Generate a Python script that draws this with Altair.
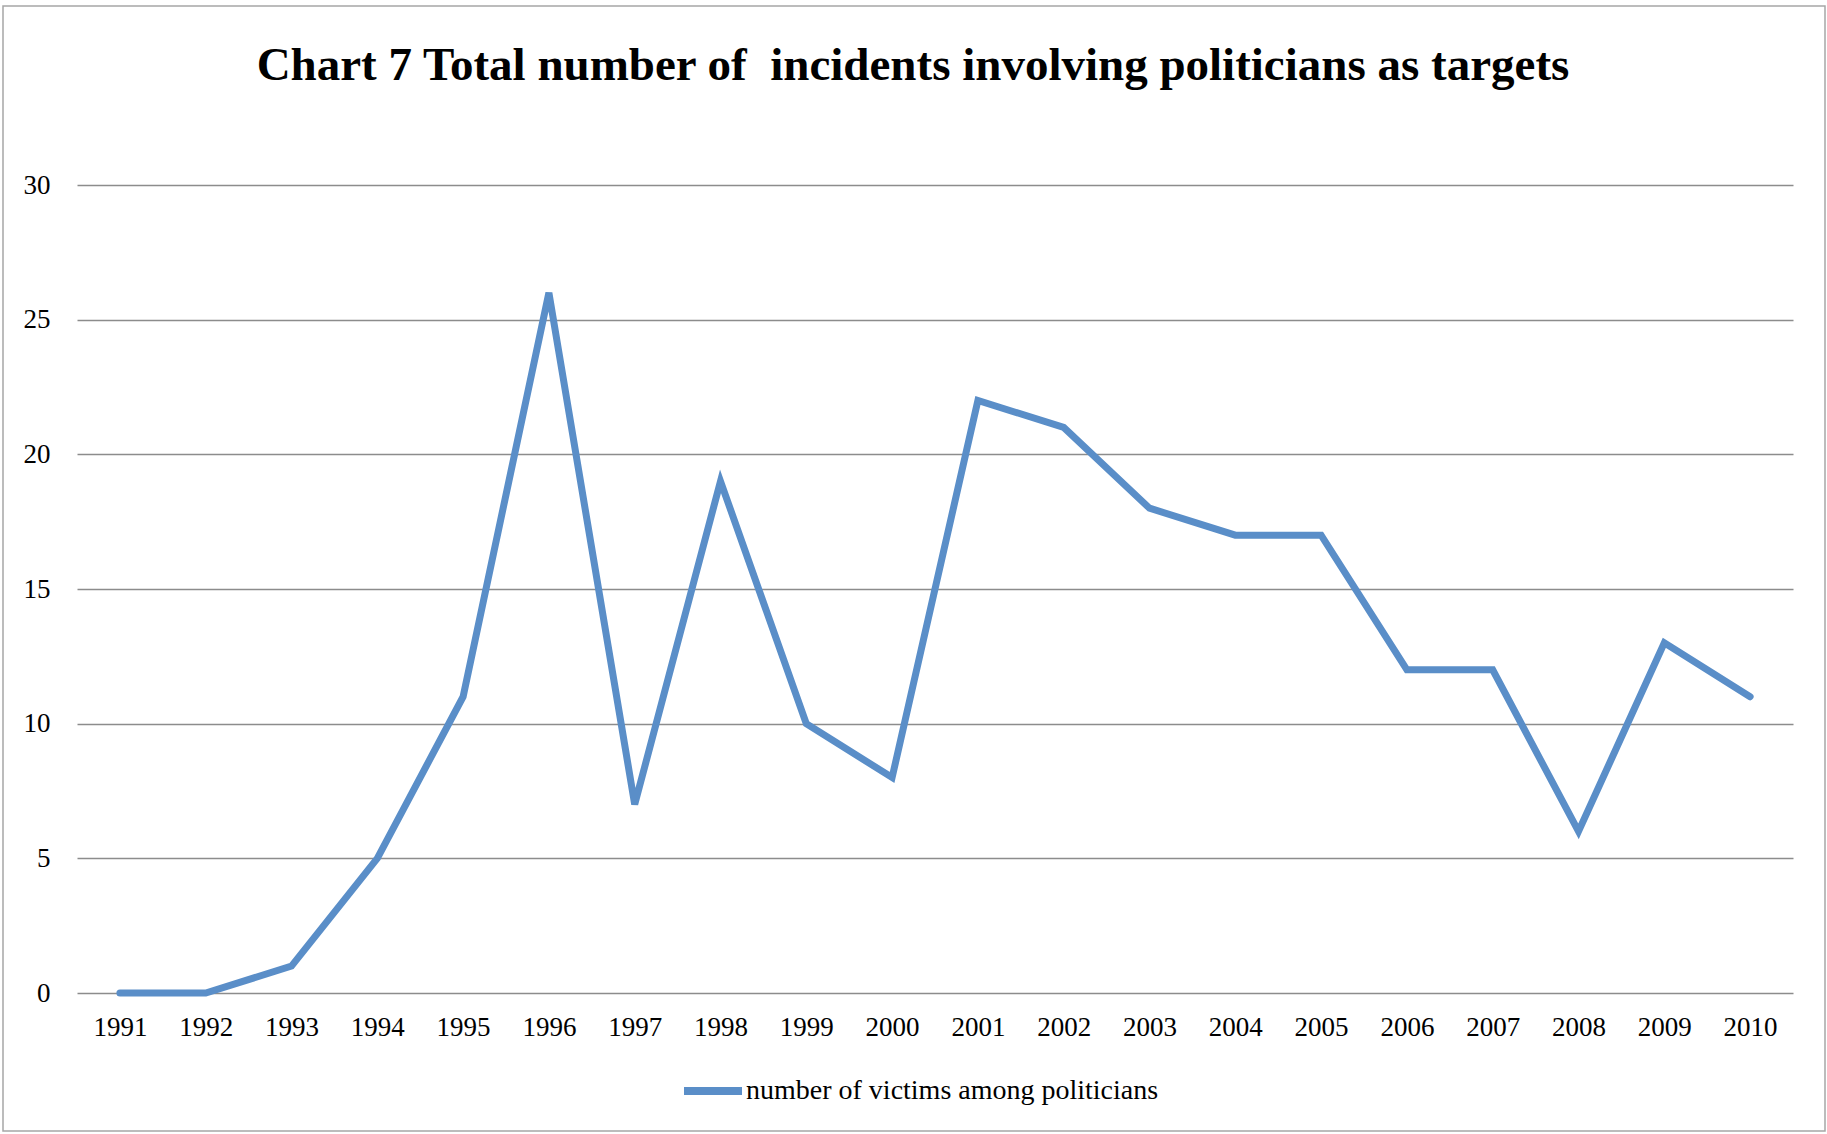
import altair as alt
import pandas as pd

years = [str(y) for y in range(1991, 2011)]
victims = [0, 0, 1, 5, 11, 26, 7, 19, 10, 8, 22, 21, 18, 17, 17, 12, 12, 6, 13, 11]
series_name = "number of victims among politicians"
title_text = "Chart 7 Total number of\u00a0 incidents involving politicians as targets"

df = pd.DataFrame({"year": years, "value": victims, "series": [series_name] * len(years)})
one_df = pd.DataFrame({"k": [0]})

FONT = "Liberation Serif"
W, H = 1716, 808
PL, PT = 77, 185
LBL = 27

line = alt.Chart(df).mark_line(strokeWidth=7, strokeCap="round", strokeJoin="miter").encode(
    x=alt.X("year:O", sort=years, title=None,
            scale=alt.Scale(type="point", padding=0.5),
            axis=alt.Axis(labelAngle=0, ticks=False, domain=False, grid=False,
                          labelFontSize=LBL, labelFont=FONT, labelColor="#000000",
                          labelPadding=21)),
    y=alt.Y("value:Q", title=None,
            scale=alt.Scale(domain=[0, 30], nice=False),
            axis=alt.Axis(values=[0, 5, 10, 15, 20, 25, 30], ticks=False, domain=False,
                          gridColor="#8c8c8c", gridWidth=1.5,
                          labelFontSize=LBL, labelFont=FONT, labelColor="#000000",
                          labelPadding=27)),
    color=alt.Color("series:N", title=None,
                    scale=alt.Scale(range=["#5A8EC8"]),
                    legend=alt.Legend(orient="none", legendX=603, legendY=873,
                                      symbolType="stroke", symbolSize=3364,
                                      symbolStrokeWidth=8, labelFontSize=28,
                                      labelFont=FONT, labelColor="#000000",
                                      labelOffset=0, padding=0, labelLimit=1000)),
)

border = alt.Chart(one_df).mark_rect(fill=None, stroke="#a6a6a6", strokeWidth=1.5).encode(
    x=alt.value(3 - PL), x2=alt.value(1825 - PL),
    y=alt.value(6 - PT), y2=alt.value(1131 - PT),
)

title = alt.Chart(one_df).mark_text(
    text=title_text, font=FONT, fontSize=47, fontWeight="bold", color="#000000",
    align="center", baseline="alphabetic",
).encode(x=alt.value(913 - PL), y=alt.value(80 - PT))

chart = alt.layer(border, title, line).properties(
    width=W, height=H,
    autosize=alt.AutoSizeParams(type="none"),
    padding={"left": PL, "top": PT, "right": 1827 - PL - W, "bottom": 1134 - PT - H},
).configure(background="white").configure_view(strokeWidth=0, stroke=None)

chart.save("out.html", embed_options={"renderer": "svg", "actions": False})
